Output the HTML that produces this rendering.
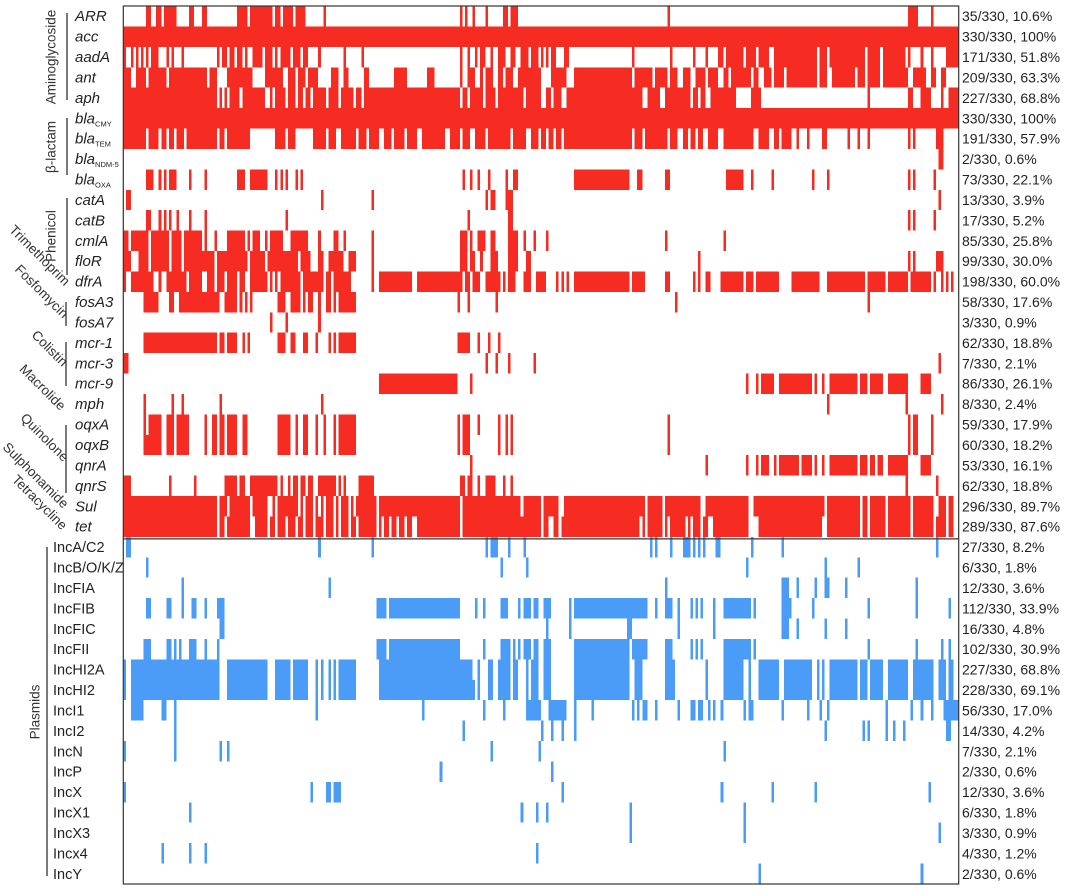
<!DOCTYPE html>
<html><head><meta charset="utf-8"><style>
html,body{margin:0;padding:0;background:#fff;}
svg{display:block;font-family:"Liberation Sans",Arial,sans-serif;}
</style></head><body>
<svg id="chart" width="1068" height="890" viewBox="0 0 1068 890" xmlns="http://www.w3.org/2000/svg">
<g id="cells" shape-rendering="crispEdges"></g>
<g id="labels"></g>
<g id="counts"></g>
<g id="groups" fill="#333" font-size="13.5"></g>
<rect x="123.3" y="6" width="835.4" height="878" fill="none" stroke="#333" stroke-width="1.2"/>
<line x1="123.3" x2="958.7" y1="538.9" y2="538.9" stroke="#333" stroke-width="1.2"/>
</svg>
<script>
const rowNames = ["ARR","acc","aadA","ant","aph","blaCMY","blaTEM","blaNDM-5","blaOXA","catA","catB","cmlA","floR","dfrA","fosA3","fosA7","mcr-1","mcr-3","mcr-9","mph","oqxA","oqxB","qnrA","qnrS","Sul","tet",
"IncA/C2","IncB/O/K/Z","IncFIA","IncFIB","IncFIC","IncFII","IncHI2A","IncHI2","IncI1","IncI2","IncN","IncP","IncX","IncX1","IncX3","Incx4","IncY"];
const countLabels = ["35/330, 10.6%","330/330, 100%","171/330, 51.8%","209/330, 63.3%","227/330, 68.8%","330/330, 100%","191/330, 57.9%","2/330, 0.6%","73/330, 22.1%","13/330, 3.9%","17/330, 5.2%","85/330, 25.8%","99/330, 30.0%","198/330, 60.0%","58/330, 17.6%","3/330, 0.9%","62/330, 18.8%","7/330, 2.1%","86/330, 26.1%","8/330, 2.4%","59/330, 17.9%","60/330, 18.2%","53/330, 16.1%","62/330, 18.8%","296/330, 89.7%","289/330, 87.6%",
"27/330, 8.2%","6/330, 1.8%","12/330, 3.6%","112/330, 33.9%","16/330, 4.8%","102/330, 30.9%","227/330, 68.8%","228/330, 69.1%","56/330, 17.0%","14/330, 4.2%","7/330, 2.1%","2/330, 0.6%","12/330, 3.6%","6/330, 1.8%","3/330, 0.9%","4/330, 1.2%","2/330, 0.6%"];
const nGenes = 26;
const nIsolates = 330;
// presence runs per row (isolate indices, "a-b" = a..b-1, "a" = single isolate)
const presence = [
"9-11 13-15 16 17 18 19-21 26-28 31-33 45-47 47-49 50-57 57-59 60-62 63-65 65-67 68-70 70-72 79 133 135 138 143 150-152 153-156 215 310-312 312-314 319",
"0-330",
"0 3 5 7 9 11-14 17 19 23 37 39-41 42-44 45-47 48 51-55 56-59 60 62-66 67-70 71-73 77 87 94 133 136 139 141-143 145 148-151 153-155 157-160 161-164 165 167 169-171 174-176 201 216 225 230 235-237 238-245 246-250 251-255 257-274 275-278 279-293 294-299 300-309 310 315 319 325-330",
"0-3 5-9 10-17 18-33 34-37 41-51 56-63 65-68 69-72 73-77 82-85 87-89 95-97 107-112 120-123 133 136-139 141 143-146 148-150 151-154 156-165 169-175 178-201 202-209 210-215 216-219 221-224 226-230 231-235 237-239 240-248 249-251 253-256 257-261 262-274 275-278 280-289 290-293 294-299 300-310 312-317 319-321 323-325",
"0-37 38 40-41 42-46 47-56 58-59 60-64 65-68 69-71 72-74 75-80 81-85 86-91 92-94 95-107 107-133 134-136 137-142 143-147 148-158 159-165 167-169 170-173 175-205 207-212 214-224 225-227 228-230 232-242 248-252 294 310-312 315-319 323-324 326-330",
"0-330",
"0-9 10-14 15-17 18-20 21-24 25-37 38-40 41-50 60-64 65-68 75-80 81-84 86-92 93-96 97-101 103-106 107-111 112-116 118-127 129-133 134-137 139-143 144-153 154-159 161-164 165-167 168-170 171-173 174-201 202-205 206-213 213-215 216-219 221-223 224-226 227-229 231-235 237-245 245-247 247-249 251-255 257-259 260-264 266-267 270 276-278 286 290 294 310-311 312 321-324",
"322-324",
"9-12 14 16 18 19-21 26 32 45-48 50-57 60 62 64 68 70 134 137 140 144 151 154-156 178-200 203 204 214-216 238-245 248 256 272 278 310 312 320",
"1-3 78 98 143-144 145-147 151-154 322",
"9-11 14 16 18 21-22 26 32 64 136 152-154 310 312-313 320",
"0-2 3-10 11-18 19-23 24-31 32 36 41-48 49 51-54 56-57 58-59 59-63 66-73 77-78 83-85 87-88 98 133-136 137 140-143 145-147 152-156 158 162-163 167 214 237",
"0-3 6-10 11-18 19-23 24-36 37-41 41-49 50-56 57-69 70-74 77-79 81-87 89-92 98 133-136 137-139 141 145-148 152-156 159-161 227 310 312 321-324",
"0 3-12 14-15 17-25 26-31 33-36 37-40 41-45 46-48 50-57 58-59 60-61 62-70 71 72-79 80-82 83-90 98 101-114 116-134 135-137 138-141 143-149 150-151 152-155 158-161 163-167 171-172 173 175 178-200 201-206 214-216 225 227 230-232 236-245 246-249 250-259 264-275 278-293 294-301 302-310 311-315 315-319 320-321 323-324 325 327",
"8-14 18-20 22-38 40-45 46 48 50 61-64 66-70 71 73-75 77 80 81 83 85-92 132 136 147 218 294",
"58 64 77",
"8-37 38-40 41-45 47 49 61-64 66-68 71-73 76 81 83 85-92 132-137 140 144 148",
"0 1 143 147 152 162 322",
"101-132 137 246 250-251 252-257 259-272 273 276 279-290 291-294 295-300 302-310 315-319",
"8 19 23 38 78 278 309 323",
"8 10-15 17-20 21-26 32 35-37 38-40 41-45 47 48 61-66 68-69 71-73 76 79 83 85-92 132 134-137 140 148 151 153 215 310 312 313 319",
"8-15 17-20 21-26 32 35-37 38-40 41-45 47 48 61-66 68-69 71-73 76 79 83 85-92 132 134-137 148 151 153 215 310 312 313 319",
"137 230-231 246 250-251 252-255 257 259-267 268-272 273 276 279-290 291-294 295-297 298-300 302-310 315-319",
"0-3 18 28 40-45 46 47-48 50-61 62 65 67-69 70-72 73-75 77-84 85 87 93-99 133-135 136-138 140 143-147 150 153 309 321-322",
"0-37 38-41 42-50 51-57 59 61-69 70 72-75 76 78 80-83 84 86-89 90 92-100 101-133 134-157 158-165 166-172 174-206 207-213 214-228 230-247 249-277 278-291 292-294 295-301 302-311 312-320 322-325 326-328",
"0-37 38-40 41-50 52-57 58 59 61-64 65-68 69-71 72-75 76-79 80-83 84-85 86-89 90-92 93-100 101-102 103-105 106-108 109-111 112-114 116-133 134-165 166-168 170-172 173-204 205-206 207-213 214-215 216-222 223-224 225-228 229-231 233-247 251-276 278-291 292-294 295-301 302-311 312-320 321-325 326-328",
"1-3 77 98 143 145-148 152-153 158 208-209 210 216 221-224 225-226 227 229 234-236 248 260 321",
"9 149 159 246 277 290",
"23 81 214 260-263 266 273 277 278 285 313",
"9-11 17 18 23 27-29 32 37-40 100-104 105-133 139 142 149-152 156 158-161 162-164 166-169 176 178-202 202-206 206 210 214-217 219 224 226 228 233 237-248 249 260-264 272 294 313 326",
"38-40 167 176 199-201 219 233 260-263 266 277 285",
"8-11 17 18 20 22 26-29 32 37 100-104 105-133 142 149-153 154 156 158-161 162-164 166-169 178-200 201-206 206 214-217 224 226 228 237-248 249 294 313 323 326",
"0 3-38 41-57 60-66 67-73 76-77 78-79 81 83 85-92 101-138 140 144-146 148-153 154-156 159-160 161-164 166-169 178-200 202-205 214-218 230-231 237-245 247 251-259 261-272 274-275 276 279-290 291-294 295-300 302-310 312-320 322-325 326-328",
"0 3-38 41-57 60-66 67-73 76-77 78-79 81 83 85-92 101-139 140 144-146 148-153 154-156 159-160 161-164 166-169 178-200 202-205 214-218 230-231 237-245 247 251-259 261-272 274-275 276 279-290 291-294 295-300 302-310 312-320 322-325 326-328",
"3-8 15-17 20 76 118 142 150 159-164 164 168-175 178 185 201-202 203 205-207 210 219 224 225 227 228 231 233 236 245 247-249 260 270 275 278 301 311 315 319 324-330",
"20 134 165 169 173 178 277 292 294 301 304 308 325-327",
"0 20 38 41 145 164 237",
"125 169",
"0 74 80-82 83-86 173 236 256 273 318",
"26 157 163 167 200 245",
"200 245 322",
"15 26 32 163",
"251 315"
];

const X0 = 123.3, X1 = 958.7, Y0 = 6, Y1 = 884;
const nRows = rowNames.length;
const xScale = c => X0 + c * (X1 - X0) / nIsolates;
const yScale = r => Y0 + r * (Y1 - Y0) / nRows;
const NS = "http://www.w3.org/2000/svg";
const RED = "#F62B22", BLUE = "#4A9CF6";

function parseRuns(str) {
  const on = new Array(nIsolates).fill(false);
  str.trim().split(/\s+/).forEach(tok => {
    if (!tok) return;
    const p = tok.split("-").map(Number);
    const a = p[0], b = p.length > 1 ? p[1] : p[0] + 1;
    for (let i = a; i < b && i < nIsolates; i++) on[i] = true;
  });
  return on;
}

const cellsG = document.getElementById("cells");
presence.forEach((str, r) => {
  const on = parseRuns(str);
  let c = 0;
  while (c < nIsolates) {
    if (!on[c]) { c++; continue; }
    let e = c;
    while (e < nIsolates && on[e]) e++;
    const rect = document.createElementNS(NS, "rect");
    rect.setAttribute("x", xScale(c));
    rect.setAttribute("y", yScale(r));
    rect.setAttribute("width", xScale(e) - xScale(c));
    rect.setAttribute("height", yScale(r + 1) - yScale(r));
    rect.setAttribute("fill", r < nGenes ? RED : BLUE);
    
    
    cellsG.appendChild(rect);
    c = e;
  }
});

const labelsG = document.getElementById("labels");
const countsG = document.getElementById("counts");
rowNames.forEach((name, r) => {
  const yMid = (yScale(r) + yScale(r + 1)) / 2 + 5;
  const t = document.createElementNS(NS, "text");
  t.setAttribute("fill", "#222");
  t.setAttribute("y", yMid);
  if (r < nGenes) {
    t.setAttribute("x", 75);
    t.setAttribute("font-size", "15");
    t.setAttribute("font-style", "italic");
    if (name.startsWith("bla")) {
      t.textContent = "bla";
      const s = document.createElementNS(NS, "tspan");
      s.setAttribute("font-size", "7.5");
      s.setAttribute("font-style", "normal");
      s.setAttribute("dy", "3");
      s.textContent = name.slice(3);
      t.appendChild(s);
    } else t.textContent = name;
  } else {
    t.setAttribute("x", 53);
    t.setAttribute("font-size", "14.5");
    t.textContent = name;
  }
  
  
  labelsG.appendChild(t);

  const ct = document.createElementNS(NS, "text");
  ct.setAttribute("x", 962);
  ct.setAttribute("y", yMid);
  ct.setAttribute("font-size", "14");
  ct.setAttribute("fill", "#222");
  ct.textContent = countLabels[r];
  
  
  countsG.appendChild(ct);
});

const groupsG = document.getElementById("groups");
const brackets = [[67,13,100],[67,118,175],[67,198,275],[66,302,326],[66,342,386],[66,425,493],[47,547,876]];
brackets.forEach(b => {
  const l = document.createElementNS(NS, "line");
  l.setAttribute("x1", b[0]); l.setAttribute("x2", b[0]);
  l.setAttribute("y1", b[1]); l.setAttribute("y2", b[2]);
  l.setAttribute("stroke", "#333"); l.setAttribute("stroke-width", "1.3");
  
  
  groupsG.appendChild(l);
});
const groupText = [["Aminoglycoside",52,57,-90],["β-lactam",52,147,-90],["Phenicol",52,236,-90],["Trimethoprim",39,256,45],["Fosfomycin",41,292,45],["Colistin",49,349,45],["Macrolide",42,388,45],["Quinolone",44,438,45],["Sulphonamide",35,476,45],["Tetracycline",39,503,45],["Plasmids",36,712,-90]];
groupText.forEach(g => {
  const t = document.createElementNS(NS, "text");
  t.setAttribute("x", g[1]); t.setAttribute("y", g[2]);
  t.setAttribute("text-anchor", "middle");
  t.setAttribute("dominant-baseline", "middle");
  t.setAttribute("transform", `rotate(${g[3]} ${g[1]} ${g[2]})`);
  t.textContent = g[0];
  
  
  groupsG.appendChild(t);
});
</script>
</body></html>
